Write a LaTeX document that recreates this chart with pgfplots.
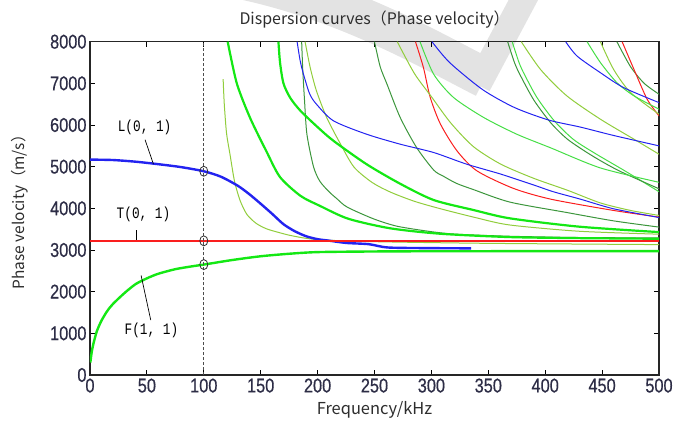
\documentclass[border=0pt]{standalone}
\usepackage{pgfplots}
\pgfplotsset{compat=1.18}
\usepackage{fontspec}
\newfontfamily\tickfont[FakeStretch=0.82,FakeBold=0.5]{Liberation Sans}
\newfontfamily\cjk{Noto Sans CJK SC}
\newfontfamily\annfont[FakeStretch=0.8]{Liberation Mono}
\definecolor{cblue}{RGB}{35,35,240}
\definecolor{cred}{RGB}{250,30,30}
\definecolor{clime}{RGB}{20,232,20}
\definecolor{cbg}{RGB}{70,222,70}
\definecolor{cdg}{RGB}{60,150,60}
\definecolor{clg}{RGB}{145,205,60}
\definecolor{ctick}{RGB}{45,45,70}
\definecolor{clab}{RGB}{45,45,45}
\begin{document}
\begin{tikzpicture}
\useasboundingbox (-90bp,-52bp) rectangle (584bp,375bp);
% watermark
\draw[line width=40bp, color=black!11, line cap=butt, line join=round]
  (155bp,395bp) .. controls (260bp,372bp) and (340bp,325bp) .. (395bp,297bp);
\draw[line width=26bp, color=black!11, line cap=butt, line join=round]
  (388bp,290bp) -- (444bp,395bp);
\begin{axis}[
  at={(0,0)}, anchor=south west,
  scale only axis, width=569bp, height=333.3bp,
  xmin=0, xmax=500, ymin=0, ymax=8000,
  xtick={0,50,...,500}, ytick={0,1000,...,8000},
  scaled ticks=false,
  /pgf/number format/1000 sep={},
  /pgf/number format/assume math mode=true,
  tick align=inside, major tick length=5bp,
  tick style={black, line width=0.8bp},
  axis line style={black!85, line width=1.1bp},
  ticklabel style={font=\tickfont\fontsize{20}{20}\selectfont, text=ctick},
  title={Dispersion curves（Phase velocity）},
  title style={font=\cjk\fontsize{16}{16}\selectfont, text=clab,
    at={(axis description cs:0.5,1.05)}, anchor=center, yshift=0pt},
  xlabel={Frequency/kHz},
  xlabel style={font=\cjk\fontsize{16.5}{16.5}\selectfont, text=clab,
    at={(axis description cs:0.5,-0.105)}, anchor=center},
  ylabel={Phase velocity（m/s）},
  ylabel style={font=\cjk\fontsize{15.5}{15.5}\selectfont, text=clab,
    at={(axis description cs:-0.123,0.5)}, anchor=center},
  every axis plot/.append style={smooth, tension=0.45},
]
% higher modes, thin
\addplot[cdg, line width=1bp] coordinates {(463,8000)(475,7400)(487,7000)(500,6740)};
\addplot[cred, line width=1bp] coordinates {(467.6,8000)(478,7336)(489.6,6619)(500,6220)};
\addplot[clg, line width=1bp] coordinates {(448.5,8000)(460,7340)(475,6780)(500,6260)};
\addplot[cbg, line width=1bp] coordinates {(436.8,8000)(448.5,7500)(463,7017)(478,6700)(500,6380)};
\addplot[cblue, line width=1bp] coordinates {(418,8000)(428,7655)(448.5,7256)(469,6897)(500,6538)};
\addplot[clg, line width=1bp] coordinates {(379,8000)(396,7330)(419,6700)(448.5,6140)(478,5660)(500,5300)};
\addplot[cbg, line width=1bp] coordinates {(371,8000)(377,7500)(382,7200)(393,6650)(408,6100)(425,5650)(445,5300)(470,4900)(500,4400)};
\addplot[cdg, line width=1bp] coordinates {(367,8000)(373,7500)(378,7200)(390,6600)(405,6050)(420,5650)(442,5250)(465,4900)(500,4470)};
\addplot[cblue, line width=1bp] coordinates {(300.5,8000)(316,7500)(345,6850)(373,6420)(403,6120)(431,5950)(460,5750)(500,5500)};
\addplot[cbg, line width=1bp] coordinates {(290,8000)(302,7220)(319.5,6660)(346,6180)(375,5780)(405,5450)(448.5,4970)(500,4625)};
\addplot[cred, line width=1bp] coordinates {(286,8000)(293,7380)(299,6660)(308,6020)(322.5,5380)(340,4900)(372,4480)(405,4220)(460,3950)(500,3790)};
\addplot[clg, line width=1bp] coordinates {(270,8000)(285,7240)(300,6680)(317,6050)(337,5480)(361,5060)(390,4720)(420,4430)(448.5,4130)(475,3950)(500,3830)};
\addplot[cdg, line width=1bp] coordinates {(250,8000)(255,7400)(261,6980)(272.6,6180)(287,5460)(302,4920)(310,4780)(322,4600)(337,4450)(369,4150)(419,3900)(460,3700)(500,3550)};
\addplot[clg, line width=1bp] coordinates {(189,8000)(193.5,7380)(199,6820)(208,6180)(220,5550)(232,4990)(248,4620)(264,4390)(285,4170)(308,3990)(340,3770)(369,3600)(430,3450)(500,3380)};
\addplot[cdg, line width=1bp] coordinates {(186,8000)(187,7300)(188.5,6600)(190.6,5780)(196.4,5000)(202,4650)(210,4400)(217,4230)(226,4030)(249,3750)(270,3570)(300,3440)(322,3380)(369,3330)(430,3300)(500,3290)};
\addplot[cblue, line width=1bp] coordinates {(182,8000)(184.7,7540)(187.6,7220)(193,6750)(199,6500)(214,6100)(243,5780)(272.6,5540)(302,5340)(331,5060)(360.6,4825)(390,4560)(407,4400)(431,4220)(460,3990)(500,3780)};
\addplot[clg, line width=1bp] coordinates {(117,7100)(118,6500)(120,5800)(123,5300)(127,4650)(132,4180)(138,3850)(146,3640)(155,3510)(166,3420)(176,3350)(190,3280)(205,3240)(250,3200)(350,3160)(500,3130)};
% thick modes
\addplot[clime, line width=2.2bp] coordinates {(165.6,8000)(167,7500)(170,7000)(176,6650)(185,6340)(200,5950)(214,5620)(243,5060)(272.6,4590)(302,4200)(337,3960)(369,3760)(430,3560)(500,3430)};
\addplot[clime, line width=2.2bp] coordinates {(121,8000)(129,7000)(140.7,6170)(155,5370)(167,4750)(185,4300)(202,4060)(227,3750)(264,3520)(308,3390)(369,3310)(430,3285)(500,3270)};
% fundamental modes
\addplot[cblue, line width=2.4bp] coordinates {(0,5170)(20,5160)(40,5120)(60,5060)(80,4990)(100,4890)(115,4760)(130,4540)(140,4340)(150,4110)(160,3870)(170,3620)(180,3450)(190,3330)(200,3260)(210,3225)(225,3170)(245,3140)(262,3060)(300,3045)(335,3040)};
\addplot[cred, line width=2.4bp, sharp plot] coordinates {(0,3220)(500,3220)};
\addplot[clime, line width=2.4bp] coordinates {(0.3,300)(1.5,550)(3,750)(6,1050)(10,1300)(15,1530)(20,1700)(30,1960)(40,2180)(50,2320)(60,2430)(75,2540)(90,2610)(100,2650)(125,2760)(150,2850)(175,2910)(200,2950)(250,2965)(300,2970)(500,2975)};
% f = 100 kHz marker
\addplot[black!70, densely dashed, line width=0.8bp, sharp plot] coordinates {(100,0)(100,8000)};
\addplot[only marks, mark=o, mark size=5bp, black!80, mark options={xscale=0.8, line width=0.8bp}] coordinates {(100,4890)(100,3220)(100,2650)};
% leaders
\addplot[black, line width=0.7bp, sharp plot] coordinates {(48.4,5646)(55.7,5065)};
\addplot[black, line width=0.7bp, sharp plot] coordinates {(40.5,3469)(40.5,3230)};
\addplot[black, line width=0.7bp, sharp plot] coordinates {(44.9,2392)(53.4,1316)};
\node[font=\annfont\fontsize{16}{16}\selectfont] at (axis cs:48,5933) {L(0, 1)};
\node[font=\annfont\fontsize{16}{16}\selectfont] at (axis cs:47,3850) {T(0, 1)};
\node[font=\annfont\fontsize{16}{16}\selectfont] at (axis cs:54,1077) {F(1, 1)};
\end{axis}
\end{tikzpicture}
\end{document}
